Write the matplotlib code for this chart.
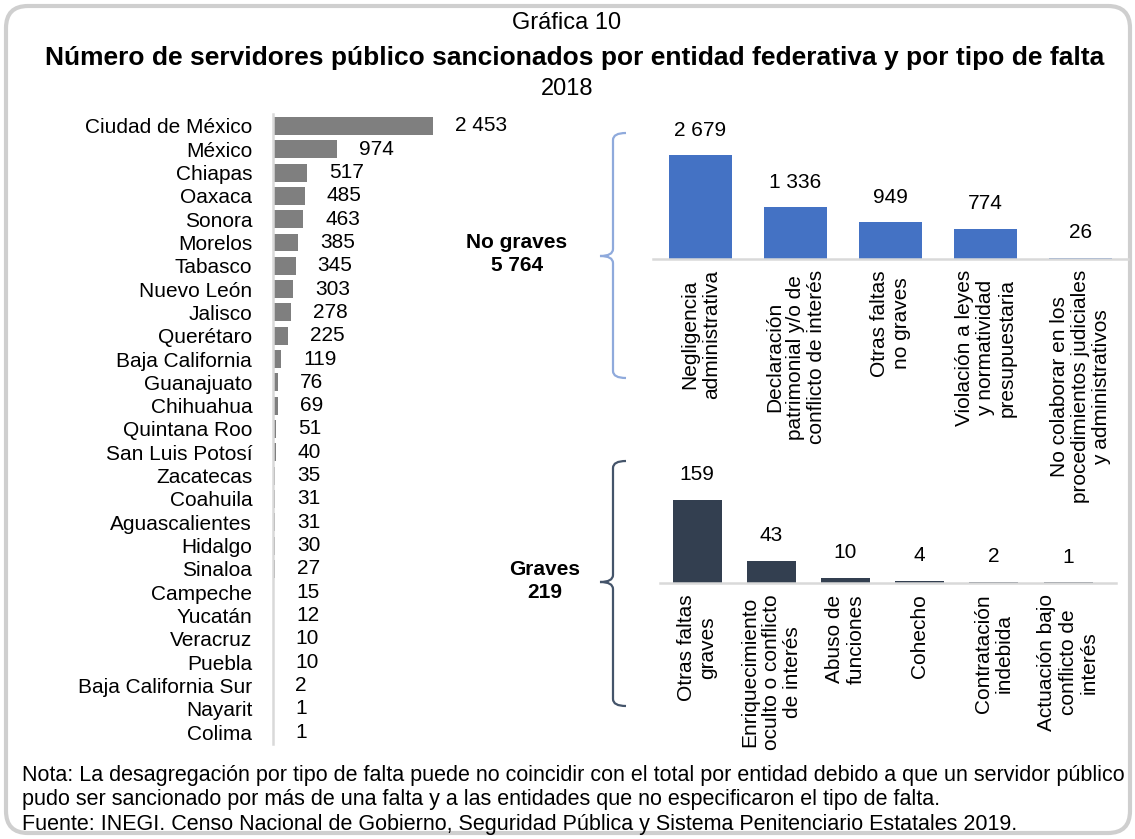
import matplotlib
matplotlib.use("Agg")
import matplotlib.pyplot as plt
from matplotlib.patches import FancyBboxPatch, PathPatch
from matplotlib.path import Path

plt.rcParams["font.family"] = ["Liberation Sans", "DejaVu Sans"]

# datos
estados = ["Ciudad de México", "México", "Chiapas", "Oaxaca", "Sonora", "Morelos",
           "Tabasco", "Nuevo León", "Jalisco", "Querétaro", "Baja California",
           "Guanajuato", "Chihuahua", "Quintana Roo", "San Luis Potosí", "Zacatecas",
           "Coahuila", "Aguascalientes", "Hidalgo", "Sinaloa", "Campeche", "Yucatán",
           "Veracruz", "Puebla", "Baja California Sur", "Nayarit", "Colima"]
sancionados = [2453, 974, 517, 485, 463, 385, 345, 303, 278, 225, 119, 76, 69, 51,
               40, 35, 31, 31, 30, 27, 15, 12, 10, 10, 2, 1, 1]

no_graves_cat = ["Negligencia\nadministrativa",
                 "Declaración\npatrimonial y/o de\nconflicto de interés",
                 "Otras faltas\nno graves",
                 "Violación a leyes\ny normatividad\npresupuestaria",
                 "No colaborar en los\nprocedimientos judiciales\ny administrativos"]
no_graves_val = [2679, 1336, 949, 774, 26]
no_graves_total = 5764

graves_cat = ["Otras faltas\ngraves",
              "Enriquecimiento\noculto o conflicto\nde interés",
              "Abuso de\nfunciones",
              "Cohecho",
              "Contratación\nindebida",
              "Actuación bajo\nconflicto de\ninterés"]
graves_val = [159, 43, 10, 4, 2, 1]
graves_total = 219

W, H = 1135, 839
FS = 15


def fmt(v):
    return f"{v:,}".replace(",", " ")


def box(x0, y0, x1, y1):
    return [x0 / W, 1 - y1 / H, (x1 - x0) / W, (y1 - y0) / H]


fig = plt.figure(figsize=(W / 100, H / 100), dpi=100)
ov = fig.add_axes([0, 0, 1, 1], zorder=-1)
ov.set_xlim(0, W); ov.set_ylim(H, 0); ov.axis("off")

ov.add_patch(FancyBboxPatch((6, 6), 1124, 827, boxstyle="round,pad=0,rounding_size=22",
                            fc="white", ec="#CFCFCF", lw=3))

ov.text(567, 23, "Gráfica 10", ha="center", va="center", fontsize=17)
ov.text(575, 58, "Número de servidores público sancionados por entidad federativa y por tipo de falta",
        ha="center", va="center", fontsize=19, fontweight="bold")
ov.text(567, 89, "2018", ha="center", va="center", fontsize=17)

nota = ("Nota: La desagregación por tipo de falta puede no coincidir con el total por entidad debido a que un servidor público\n"
        "pudo ser sancionado por más de una falta y a las entidades que no especificaron el tipo de falta.\n"
        "Fuente: INEGI. Censo Nacional de Gobierno, Seguridad Pública y Sistema Penitenciario Estatales 2019.")
ov.text(22, 800, nota, ha="left", va="center", fontsize=15.5, linespacing=1.2)


def brace(x, y0, ym, y1, color):
    c, r = 13, 7
    verts = [(x + c, y0), (x, y0), (x, y0 + r), (x, ym - r), (x, ym), (x - c, ym),
             (x, ym), (x, ym + r), (x, y1 - r), (x, y1), (x + c, y1)]
    codes = [Path.MOVETO, Path.CURVE3, Path.CURVE3, Path.LINETO, Path.CURVE3, Path.CURVE3,
             Path.CURVE3, Path.CURVE3, Path.LINETO, Path.CURVE3, Path.CURVE3]
    ov.add_patch(PathPatch(Path(verts, codes), fc="none", ec=color, lw=1.6))


brace(613, 133, 256, 378, "#8FAADC")
brace(613, 461, 582, 706, "#44546A")
ov.text(517, 254, f"No graves\n{fmt(no_graves_total)}", ha="center", va="center",
        fontsize=FS, fontweight="bold", linespacing=1.25)
ov.text(545, 581, f"Graves\n{fmt(graves_total)}", ha="center", va="center",
        fontsize=FS, fontweight="bold", linespacing=1.25)

# barras horizontales por entidad
ax = fig.add_axes(box(273, 114.3, 473, 743.7))
ax.patch.set_alpha(0)
ypos = list(range(len(estados)))
ax.barh(ypos, sancionados, height=0.77, color="#7F7F7F", left=0)
ax.set_xlim(0, 200 / (160 / 2453))
ax.set_ylim(len(estados) - 0.5, -0.5)
ax.set_yticks(ypos, estados, fontsize=FS)
ax.tick_params(axis="y", length=0, pad=15)
ax.set_xticks([])
for s in ["top", "right", "bottom"]:
    ax.spines[s].set_visible(False)
ax.spines["left"].set_color("#D9D9D9")
ax.spines["left"].set_linewidth(1.8)
for y, v in zip(ypos, sancionados):
    ax.annotate(fmt(v), (v, y), xytext=(16, 0), textcoords="offset points",
                ha="left", va="center", fontsize=FS, annotation_clip=False)


def vbars(rect, cats, vals, color, ymax, right_extra):
    a = fig.add_axes(rect)
    a.patch.set_alpha(0)
    xs = list(range(len(cats)))
    a.bar(xs, vals, width=0.66, color=color)
    a.set_xlim(-0.5, len(cats) - 0.5 + right_extra)
    a.set_ylim(0, ymax)
    a.set_xticks(xs, cats, rotation=90, fontsize=FS)
    for t in a.get_xticklabels():
        t.set_multialignment("center")
        t.set_linespacing(1.15)
    a.tick_params(axis="x", length=0, pad=8)
    a.set_yticks([])
    for s in ["top", "right", "left"]:
        a.spines[s].set_visible(False)
    a.spines["bottom"].set_color("#D9D9D9")
    a.spines["bottom"].set_linewidth(1.8)
    for x, v in zip(xs, vals):
        a.annotate(fmt(v), (x, v), xytext=(0, 18), textcoords="offset points",
                   ha="center", va="center", fontsize=FS)
    return a


vbars(box(653, 130, 1128, 259), no_graves_cat, no_graves_val, "#4472C4",
      129 / (104 / 2679), 0)
vbars(box(660, 470, 1116, 583), graves_cat, graves_val, "#333F50",
      113 / (83 / 159), 11 / 76)

fig.savefig("out.png", dpi=100)
